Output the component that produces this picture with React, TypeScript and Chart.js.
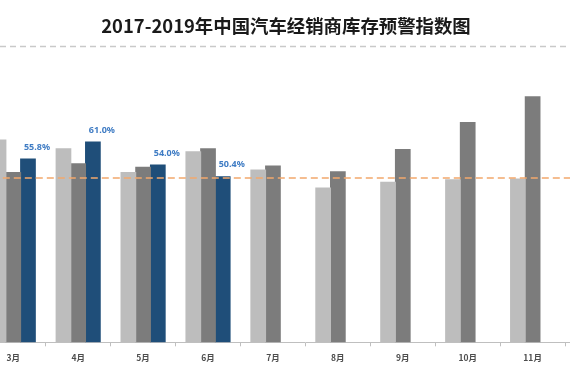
import React, { useEffect, useRef } from "react";
import { Chart, registerables } from "chart.js";

Chart.register(...registerables);

const TITLE = "2017-2019年中国汽车经销商库存预警指数图";
const MONTHS = ["3月", "4月", "5月", "6月", "7月", "8月", "9月", "10月", "11月", "12月"];
const SERIES_NAMES = ["2017年", "2018年", "2019年"];
const S2017 = [61.6, 58.9, 51.7, 58.0, 52.5, 47.0, 48.7, 49.5, 49.7, null];
const S2018 = [51.7, 54.4, 53.3, 58.9, 53.7, 51.9, 58.7, 66.9, 74.8, null];
const S2019 = [55.8, 61.0, 54.0, 50.4, null, null, null, null, null, null];
const WARNING = 50;
const Y_MIN = 0;
const Y_MAX = 100;

const decorPlugin = {
  id: "decor",
  beforeDraw(chart: any) {
    const ctx = chart.ctx;
    ctx.save();
    ctx.strokeStyle = "#c9c9c9";
    ctx.lineWidth = 1.3;
    ctx.setLineDash([6, 4]);
    ctx.beginPath();
    ctx.moveTo(0, 46.5);
    ctx.lineTo(chart.width, 46.5);
    ctx.stroke();
    ctx.restore();
  },
  afterDatasetsDraw(chart: any) {
    const ctx = chart.ctx;
    const area = chart.chartArea;
    const y = chart.scales.y.getPixelForValue(WARNING);
    ctx.save();
    ctx.strokeStyle = "#f2a86c";
    ctx.lineWidth = 1.5;
    ctx.setLineDash([7, 4]);
    ctx.beginPath();
    ctx.moveTo(area.left, y);
    ctx.lineTo(area.right, y);
    ctx.stroke();
    ctx.restore();

    const meta = chart.getDatasetMeta(2);
    ctx.save();
    ctx.fillStyle = "#3f7cc4";
    ctx.font = "bold 9px 'Noto Sans', 'DejaVu Sans', sans-serif";
    ctx.textAlign = "center";
    ctx.textBaseline = "middle";
    meta.data.forEach((bar: any, i: number) => {
      const v = S2019[i];
      if (v === null || v === undefined) return;
      ctx.fillText(v.toFixed(1) + "%", bar.x + 9, bar.y - 12);
    });
    ctx.restore();
  },
};

export default function App() {
  const ref = useRef<HTMLCanvasElement | null>(null);

  useEffect(() => {
    if (!ref.current) return;
    const chart = new Chart(ref.current, {
      type: "bar",
      data: {
        labels: MONTHS,
        datasets: [
          { label: SERIES_NAMES[0], data: S2017, backgroundColor: "#bdbdbd", borderWidth: 0 },
          { label: SERIES_NAMES[1], data: S2018, backgroundColor: "#7c7c7c", borderWidth: 0 },
          { label: SERIES_NAMES[2], data: S2019, backgroundColor: "#1f4e79", borderWidth: 0 },
        ],
      },
      options: {
        animation: false,
        responsive: true,
        maintainAspectRatio: false,
        layout: { padding: { left: 20.8, right: 0, top: 13.9, bottom: 0 } },
        datasets: { bar: { categoryPercentage: 0.68, barPercentage: 1.0, inflateAmount: 0.5 } },
        plugins: {
          legend: { display: false },
          tooltip: { enabled: false },
          title: { display: false },
        },
        scales: {
          x: {
            offset: true,
            grid: {
              display: true,
              drawOnChartArea: false,
              drawTicks: true,
              tickLength: 4,
              color: "#bfbfbf",
              offset: true,
            },
            border: { display: true, color: "#bfbfbf", width: 1 },
            ticks: {
              color: "#4d4d4d",
              padding: 6,
              font: { size: 8.5, weight: "bold", family: "'Noto Sans CJK SC', sans-serif" },
            },
            afterFit: (scale: any) => {
              scale.height = 37.7;
            },
          },
          y: {
            display: false,
            min: Y_MIN,
            max: Y_MAX,
            grid: { display: false },
          },
        },
      },
      plugins: [decorPlugin],
    } as any);
    return () => chart.destroy();
  }, []);

  return (
    <div
      style={{
        position: "fixed",
        left: 0,
        top: 0,
        width: 570,
        height: 380,
        overflow: "hidden",
        background: "#ffffff",
      }}
    >
      <div style={{ position: "absolute", left: -40, top: 0, width: 670, height: 380 }}>
        <canvas ref={ref} />
      </div>
      <div
        style={{
          position: "absolute",
          left: 0,
          top: 11,
          width: 572,
          textAlign: "center",
          fontFamily: "'Noto Sans CJK SC', sans-serif",
          fontWeight: "bold",
          fontSize: 18.4,
          lineHeight: "28px",
          color: "#1a1a1a",
          whiteSpace: "nowrap",
        }}
      >
        {TITLE}
      </div>
    </div>
  );
}
